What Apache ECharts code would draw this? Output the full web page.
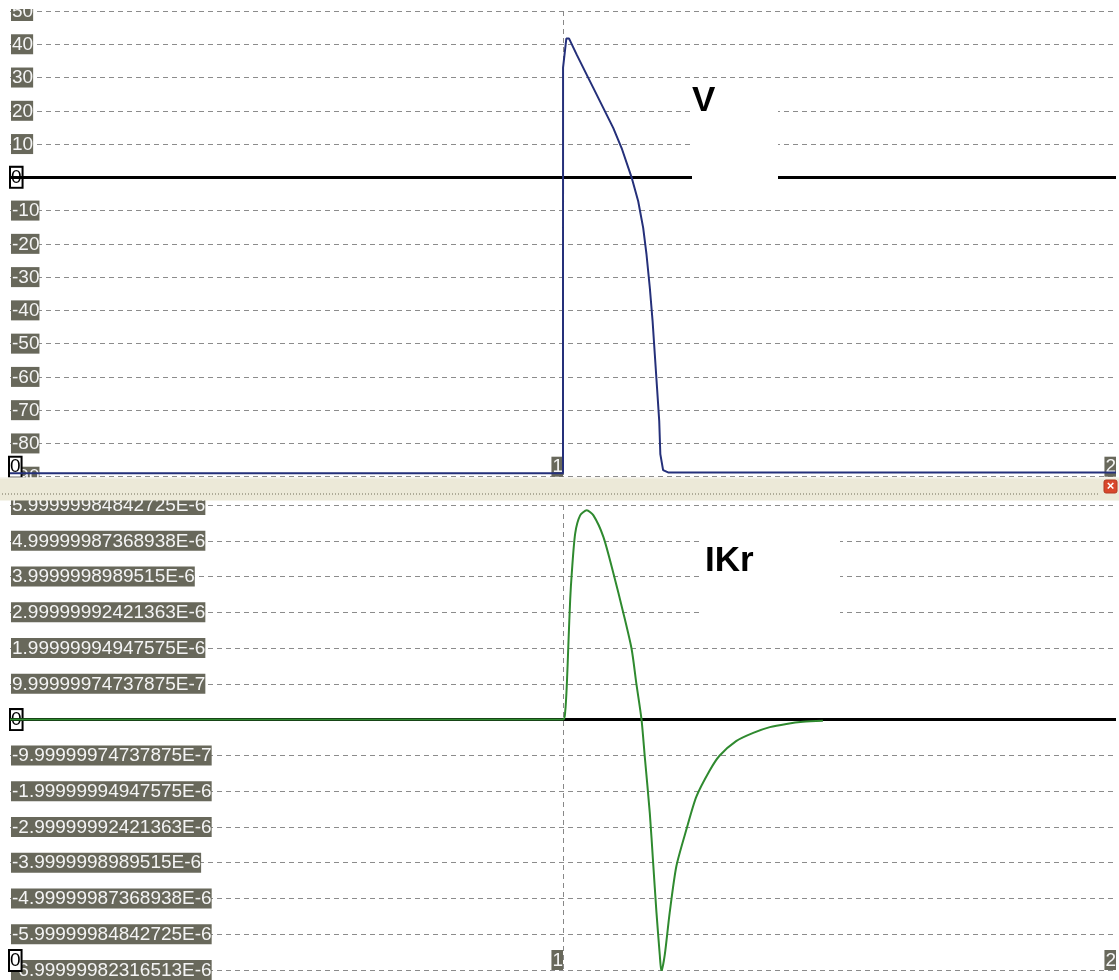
<!DOCTYPE html>
<html>
<head>
<meta charset="utf-8">
<script src="https://cdn.jsdelivr.net/npm/echarts@6/dist/echarts.min.js"></script>
<style>
html,body{margin:0;padding:0;background:#fff;}
#chart{width:1119px;height:980px;}
</style>
</head>
<body>
<div id="chart"></div>
<script>
// ---- data ----
const X_TICK_VALUES = [0, 1, 2];
const X_TICK_LABELS = ['0', '1', '2'];

const V_TICK_VALUES = [50, 40, 30, 20, 10, 0, -10, -20, -30, -40, -50, -60, -70, -80, -90];
const V_TICK_LABELS = ['50', '40', '30', '20', '10', '0', '-10', '-20', '-30', '-40', '-50', '-60', '-70', '-80', '-90'];

const IKR_TICK_STEPS = [6, 5, 4, 3, 2, 1, 0, -1, -2, -3, -4, -5, -6, -7];
const IKR_TICK_LABELS = [
  '5.99999984842725E-6', '4.99999987368938E-6', '3.9999998989515E-6', '2.99999992421363E-6',
  '1.99999994947575E-6', '9.99999974737875E-7', '0', '-9.99999974737875E-7',
  '-1.99999994947575E-6', '-2.99999992421363E-6', '-3.9999998989515E-6',
  '-4.99999987368938E-6', '-5.99999984842725E-6', '-6.99999982316513E-6'
];

// membrane voltage V (mV) vs time
const V_TIME = [0, 0.5, 1.0, 1.0001, 1.006, 1.011, 1.025, 1.043, 1.055, 1.073, 1.091, 1.106, 1.124,
  1.136, 1.145, 1.151, 1.157, 1.162, 1.166, 1.170, 1.174, 1.176, 1.181, 1.19, 1.5, 2.0];
const V_VALUES = [-89, -89, -89, 33, 41.7, 41.7, 36.8, 30.8, 26.8, 20.8, 14.8, 8.8, 0,
  -7.2, -15.2, -23.2, -33.2, -43.2, -53.2, -63.2, -73.2, -83.2, -88, -88.7, -88.7, -88.7];

// IKr current vs time
const IKR_TIME = [0, 0.5, 1.0, 1.004, 1.0069, 1.0099, 1.013, 1.0159, 1.022, 1.031, 1.0429, 1.055, 1.073,
  1.091, 1.109, 1.124, 1.133, 1.142, 1.148, 1.157, 1.163, 1.169, 1.175, 1.178, 1.184, 1.193,
  1.205, 1.223, 1.241, 1.265, 1.283, 1.313, 1.344, 1.374, 1.404, 1.434, 1.470];
const IKR_VALUES = [0, 0, 0, 0.23e-6, 0.97e-6, 2.17e-6, 3.36e-6, 4.1e-6, 5.2e-6, 5.71e-6, 5.85e-6, 5.71e-6, 5.11e-6,
  4.1e-6, 2.99e-6, 1.98e-6, 0.97e-6, 0, -1.06e-6, -2.62e-6, -4.0e-6, -5.39e-6, -6.58e-6, -7.04e-6, -6.58e-6, -5.39e-6,
  -4.1e-6, -3.08e-6, -2.16e-6, -1.43e-6, -1.01e-6, -0.6e-6, -0.37e-6, -0.21e-6, -0.12e-6, -0.06e-6, -0.03e-6];

// ---- styles ----
const FONT = '"Liberation Sans", Arial, sans-serif';
const richLabels = {
  g: { backgroundColor: '#68685b', color: '#f4f4f4', fontSize: 19, fontFamily: FONT, padding: [1, 0, 0, 1], lineHeight: 20 },
  z: { backgroundColor: '#ffffff', color: '#000000', fontSize: 19, fontFamily: FONT, padding: [0, 0, 0, 0], lineHeight: 19, borderColor: '#000', borderWidth: 2 }
};
const dashed = { color: '#8c8c8c', width: 1, type: [5, 4] };

function pairs(xs, ys) { return xs.map((x, i) => [x, ys[i]]); }
function vLabel(v) {
  const i = V_TICK_VALUES.indexOf(Math.round(v));
  const s = i >= 0 ? V_TICK_LABELS[i] : String(v);
  return s === '0' ? '{z|0}' : '{g|' + s + '}';
}
function ikrLabel(v) {
  const i = IKR_TICK_STEPS.indexOf(Math.round(v * 1e6));
  const s = i >= 0 ? IKR_TICK_LABELS[i] : String(v);
  return s === '0' ? '{z|0}' : '{g|' + s + '}';
}
function xLabel(v) {
  const i = X_TICK_VALUES.indexOf(Math.round(v));
  const s = i >= 0 ? X_TICK_LABELS[i] : String(v);
  return s === '0' ? '{z|0}' : '{g|' + s + '}';
}

function xAxisCfg(gridIndex) {
  return {
    type: 'value', gridIndex, min: 0, max: 2, interval: 1, z: 2,
    axisLine: { show: false }, axisTick: { show: false },
    splitLine: { show: true, showMinLine: false, showMaxLine: false, lineStyle: { color: '#888', width: 1, type: [5, 4] } },
    axisLabel: {
      inside: true, margin: 0, align: 'right', alignMinLabel: 'left', alignMaxLabel: 'right',
      verticalAlign: 'bottom', showMinLabel: true, showMaxLabel: true,
      formatter: xLabel, rich: richLabels
    }
  };
}

function zeroLine(idx) {
  return {
    name: 'zero' + idx, type: 'line', xAxisIndex: idx, yAxisIndex: idx, data: [], z: 3, silent: true,
    markLine: { silent: true, symbol: ['none', 'none'], label: { show: false }, z: 3,
      lineStyle: { color: '#000', width: 3, type: 'solid' }, data: [{ yAxis: 0 }] }
  };
}

const chart = echarts.init(document.getElementById('chart'), null, { renderer: 'canvas' });
chart.setOption({
  animation: false,
  backgroundColor: '#ffffff',
  grid: [
    { left: 10, right: 0, top: 11, height: 465.7 },
    { left: 10, right: 0, top: 505, height: 471 }
  ],
  xAxis: [xAxisCfg(0), xAxisCfg(1)],
  yAxis: [
    {
      type: 'value', gridIndex: 0, min: -90, max: 50, interval: 10, z: 1,
      axisLine: { show: false }, axisTick: { show: false },
      splitLine: { show: true, lineStyle: dashed },
      axisLabel: { inside: true, margin: 1, showMinLabel: true, showMaxLabel: true, formatter: vLabel, rich: richLabels }
    },
    {
      type: 'value', gridIndex: 1, min: -7e-6, max: 6e-6, interval: 1e-6, z: 1,
      axisLine: { show: false }, axisTick: { show: false },
      splitLine: { show: true, lineStyle: dashed },
      axisLabel: { inside: true, margin: 1, showMinLabel: true, showMaxLabel: true, formatter: ikrLabel, rich: richLabels }
    }
  ],
  series: [
    zeroLine(0),
    zeroLine(1),
    {
      name: 'V', type: 'line', xAxisIndex: 0, yAxisIndex: 0, z: 4,
      data: pairs(V_TIME, V_VALUES), showSymbol: false, smooth: false,
      lineStyle: { color: '#25307a', width: 2 }
    },
    {
      name: 'IKr', type: 'line', xAxisIndex: 1, yAxisIndex: 1, z: 4,
      data: pairs(IKR_TIME, IKR_VALUES), showSymbol: false, smooth: 0.25,
      lineStyle: { color: '#2f8a2f', width: 2 }
    }
  ],
  graphic: [
    // top edge cut
    { type: 'rect', z: 100, shape: { x: 0, y: 0, width: 1119, height: 9 }, style: { fill: '#ffffff' } },
    // splitter bar
    { type: 'rect', z: 100, shape: { x: 0, y: 477.5, width: 1119, height: 23 }, style: { fill: '#ece9d8' } },
    { type: 'line', z: 101, shape: { x1: 0, y1: 478, x2: 1119, y2: 478 }, style: { stroke: '#f6f5ee', lineWidth: 1 } },
    { type: 'line', z: 101, shape: { x1: 2, y1: 494, x2: 1098, y2: 494 }, style: { stroke: '#aeab98', lineWidth: 2, lineDash: [1, 2] } },
    { type: 'rect', z: 102, shape: { x: 1104, y: 480, width: 13, height: 13, r: 2 }, style: { fill: '#d9472c', stroke: '#b23a22', lineWidth: 1 } },
    { type: 'text', z: 103, style: { x: 1110.5, y: 486.5, text: '×', fill: '#fff', font: 'bold 13px ' + FONT, align: 'center', verticalAlign: 'middle' } },
    // V annotation
    { type: 'rect', z: 90, shape: { x: 692, y: 84, width: 86, height: 101 }, style: { fill: '#ffffff' } },
    { type: 'text', z: 91, style: { x: 692, y: 101.5, text: 'V', fill: '#000', font: 'bold 35px ' + FONT, align: 'left', verticalAlign: 'middle' } },
    // IKr annotation
    { type: 'rect', z: 90, shape: { x: 702, y: 530, width: 138, height: 110 }, style: { fill: '#ffffff' } },
    { type: 'text', z: 91, style: { x: 705, y: 561.5, text: 'IKr', fill: '#000', font: 'bold 35px ' + FONT, align: 'left', verticalAlign: 'middle' } }
  ]
});
</script>
</body>
</html>
